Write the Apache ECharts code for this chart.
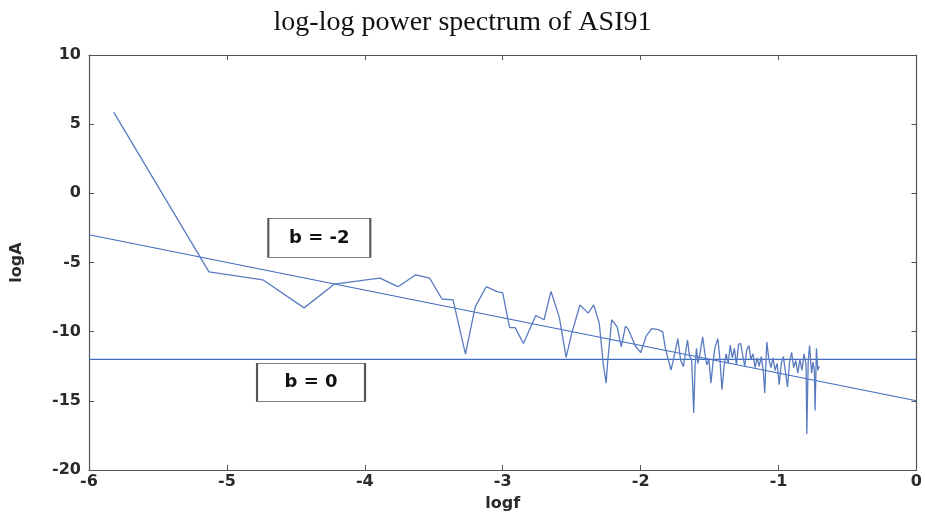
<!DOCTYPE html>
<html>
<head>
<meta charset="utf-8">
<script src="https://cdn.jsdelivr.net/npm/echarts@6/dist/echarts.min.js"></script>
<style>html,body{margin:0;padding:0;background:#fff}#c{width:925px;height:517px}</style>
</head>
<body>
<div id="c"></div>
<script>
const titleText = 'log-log power spectrum of ASI91';
const xTicks = [-6, -5, -4, -3, -2, -1, 0];
const yTicks = [-20, -15, -10, -5, 0, 5, 10];
const logf = [-5.82,-5.13,-4.74,-4.44,-4.22,-3.99,-3.89,-3.76,-3.63,-3.53,-3.44,-3.36,-3.27,-3.20,-3.12,-3.04,-3.00,-2.95,-2.91,-2.85,-2.76,-2.70,-2.65,-2.59,-2.54,-2.50,-2.44,-2.38,-2.34,-2.30,-2.27,-2.25,-2.24,-2.21,-2.17,-2.14,-2.11,-2.09,-2.04,-2.00,-1.96,-1.92,-1.87,-1.84,-1.82,-1.78,-1.76,-1.73,-1.71,-1.69,
  -1.66,-1.645,-1.63,-1.615,-1.605,-1.595,-1.585,-1.57,-1.55,-1.535,-1.52,-1.505,-1.49,-1.475,-1.46,-1.44,-1.425,-1.41,-1.395,-1.38,-1.365,-1.35,-1.335,-1.32,-1.305,-1.29,-1.275,-1.26,-1.245,-1.23,-1.215,-1.2,-1.185,-1.17,-1.155,-1.14,-1.125,-1.11,-1.10,-1.085,-1.07,-1.055,-1.04,-1.025,-1.01,-0.995,-0.98,-0.965,-0.95,-0.935,-0.92,-0.905,-0.89,-0.875,-0.86,-0.845,-0.83,-0.815,-0.80,-0.795,-0.785,-0.775,-0.76,-0.75,-0.74,-0.735,-0.725,-0.715,-0.705];
const logA = [5.85,-5.68,-6.25,-8.28,-6.56,-6.25,-6.13,-6.75,-5.89,-6.13,-7.64,-7.70,-11.62,-8.23,-6.75,-7.11,-7.20,-9.71,-9.71,-10.86,-8.83,-9.14,-7.09,-8.95,-11.86,-10.14,-8.07,-8.66,-8.07,-9.38,-12.41,-13.72,-12.29,-9.14,-9.66,-11.10,-9.61,-9.80,-11.0,-11.52,-10.33,-9.78,-9.86,-10.02,-11.22,-12.77,-11.93,-10.50,-12.05,-12.53,
  -10.6,-11.8,-12.0,-15.87,-12.5,-11.2,-12.3,-11.6,-10.38,-11.5,-12.4,-12.0,-13.72,-12.2,-11.1,-10.5,-12.0,-14.2,-12.5,-11.6,-12.3,-10.98,-11.9,-11.2,-12.4,-10.9,-10.86,-11.7,-12.5,-11.3,-11.0,-12.0,-11.6,-12.6,-11.9,-12.5,-11.8,-12.9,-14.44,-10.74,-12.0,-12.6,-11.9,-12.8,-12.3,-13.84,-12.3,-11.8,-12.9,-14.0,-12.2,-11.5,-12.6,-12.1,-13.0,-12.0,-12.8,-11.6,-12.4,-17.4,-12.2,-11.0,-13.0,-12.2,-12.8,-15.7,-11.2,-12.8,-12.5];
const fitSlopeX = [-6, 0];
const fitSlopeY = [-3, -15];
const fitFlatX = [-6, 0];
const fitFlatY = [-12, -12];
const labels = ['b = -2', 'b = 0'];
const labelPos = [[-4.33, -3.22], [-4.39, -13.67]];

const zip = (a, b) => a.map((v, i) => [v, b[i]]);
const axisLine = {show: true, onZero: false, lineStyle: {color: '#555', width: 1.2}};
const tickStyle = {show: true, inside: true, length: 5, lineStyle: {color: '#555'}};
const labelFont = {fontFamily: 'DejaVu Sans, Verdana, sans-serif', fontSize: 16, fontWeight: 'bold', color: '#2a2a2a'};
const boxLabel = {show: true, color: '#111', fontWeight: 'bold', fontSize: 18, fontFamily: 'DejaVu Sans, Verdana, sans-serif'};

const chart = echarts.init(document.getElementById('c'), null, {renderer: 'canvas'});
chart.setOption({
  animation: false,
  backgroundColor: '#fff',
  title: {text: titleText, left: 'center', top: 4,
    textStyle: {fontFamily: 'Liberation Serif, Times New Roman, serif', fontSize: 28, fontWeight: 'normal', color: '#111'}},
  grid: {left: 89, right: 7, top: 55, bottom: 42},
  xAxis: [
    {type: 'value', min: -6, max: 0, interval: 1, name: 'logf', nameLocation: 'middle', nameGap: 26,
     nameTextStyle: labelFont, axisLine: axisLine, axisTick: tickStyle, splitLine: {show: false},
     axisLabel: Object.assign({margin: 4}, labelFont)},
    {type: 'value', position: 'top', min: -6, max: 0, interval: 1, axisLine: axisLine, axisTick: tickStyle,
     axisLabel: {show: false}, splitLine: {show: false}}
  ],
  yAxis: [
    {type: 'value', min: -20, max: 10, interval: 5, name: 'logA', nameLocation: 'middle', nameGap: 64,
     nameTextStyle: labelFont, axisLine: axisLine, axisTick: tickStyle, splitLine: {show: false},
     axisLabel: Object.assign({margin: 8}, labelFont)},
    {type: 'value', position: 'right', min: -20, max: 10, interval: 5, axisLine: axisLine, axisTick: tickStyle,
     axisLabel: {show: false}, splitLine: {show: false}}
  ],
  series: [
    {type: 'line', data: zip(logf, logA), symbol: 'none', lineStyle: {color: '#5a7bc0', width: 1.3}, z: 3},
    {type: 'line', data: zip(fitSlopeX, fitSlopeY), symbol: 'none', lineStyle: {color: '#3f6cbd', width: 1.1}, z: 2,
     markPoint: {symbol: 'rect', symbolSize: [102, 39], silent: true,
       itemStyle: {color: '#fff', borderColor: '#555', borderWidth: 1.3},
       label: Object.assign({formatter: labels[0]}, boxLabel),
       data: [{coord: labelPos[0]}]}},
    {type: 'line', data: zip(fitFlatX, fitFlatY), symbol: 'none', lineStyle: {color: '#3f6cbd', width: 1.1}, z: 2,
     markPoint: {symbol: 'rect', symbolSize: [108, 38], silent: true,
       itemStyle: {color: '#fff', borderColor: '#555', borderWidth: 1.3},
       label: Object.assign({formatter: labels[1]}, boxLabel),
       data: [{coord: labelPos[1]}]}}
  ]
});
</script>
</body>
</html>
